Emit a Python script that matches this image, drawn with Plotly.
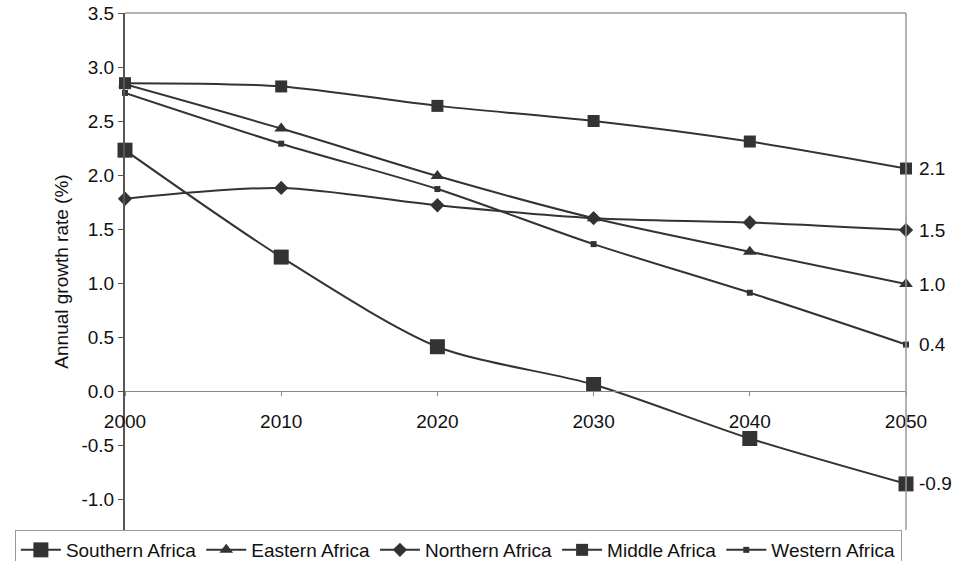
import plotly.graph_objects as go

years = [2000, 2010, 2020, 2030, 2040, 2050]

southern_africa = [2.23, 1.24, 0.41, 0.06, -0.44, -0.86]
eastern_africa = [2.84, 2.43, 1.99, 1.60, 1.29, 0.99]
northern_africa = [1.78, 1.88, 1.72, 1.60, 1.56, 1.49]
middle_africa = [2.85, 2.82, 2.64, 2.50, 2.31, 2.06]
western_africa = [2.76, 2.29, 1.87, 1.36, 0.91, 0.43]

y_ticks = [3.5, 3.0, 2.5, 2.0, 1.5, 1.0, 0.5, 0.0, -0.5, -1.0]
y_min, y_max = -1.287, 3.5

INK = "#333333"
FONT = "Liberation Sans, Arial, sans-serif"
FS = 19

series = [
    ("Southern Africa", southern_africa, dict(symbol="square", size=15)),
    ("Eastern Africa", eastern_africa, dict(symbol="triangle-up", size=12)),
    ("Northern Africa", northern_africa, dict(symbol="diamond", size=11)),
    ("Middle Africa", middle_africa, dict(symbol="square", size=12)),
    ("Western Africa", western_africa, dict(symbol="square", size=6)),
]

fig = go.Figure()
for name, vals, mk in series:
    fig.add_trace(go.Scatter(
        x=years, y=vals, name=name, mode="lines+markers", cliponaxis=False,
        line=dict(color=INK, width=2, shape="spline", smoothing=0.8),
        marker=dict(color=INK, line=dict(width=0), **mk),
    ))

# end-of-line value labels
annotations = []
for name, vals, mk in series:
    annotations.append(dict(
        x=years[-1], y=vals[-1], xref="x", yref="y",
        text=f"{vals[-1]:.1f}", showarrow=False,
        xanchor="left", yanchor="middle", xshift=11,
        font=dict(family=FONT, size=FS, color="#111111"),
    ))

dom_bottom, dom_top = 0.0, 1.0
zero_pos = dom_bottom + (0 - y_min) / (y_max - y_min) * (dom_top - dom_bottom)

fig.update_layout(
    width=956, height=561,
    margin=dict(l=125, r=50, t=13, b=31, autoexpand=False),
    paper_bgcolor="white", plot_bgcolor="white",
    font=dict(family=FONT, size=FS, color="#111111"),
    showlegend=True,
    legend=dict(
        orientation="h", x=-0.141, y=0.0, xanchor="left", yanchor="top",
        bordercolor="#999999", borderwidth=1, bgcolor="white",
        font=dict(family=FONT, size=FS, color="#111111"),
        itemwidth=40, tracegroupgap=0,
    ),
    xaxis=dict(
        range=[2000, 2050], tickvals=years, ticktext=[str(y) for y in years],
        anchor="free", position=zero_pos,
        showline=True, linecolor="#888888", linewidth=1,
        ticks="outside", ticklen=4, tickcolor="#888888",
        ticklabelstandoff=9,
        showgrid=False, zeroline=False,
        tickfont=dict(family=FONT, size=FS, color="#111111"),
    ),
    yaxis=dict(
        range=[y_min, y_max], tickvals=y_ticks,
        ticktext=[f"{v:.1f}" for v in y_ticks],
        showline=True, linecolor="#555555", linewidth=2,
        ticks="outside", ticklen=5, tickcolor="#555555",
        showgrid=False, zeroline=False,
        tickfont=dict(family=FONT, size=FS, color="#111111"),
        title=dict(text="Annual growth rate (%)", standoff=8,
                   font=dict(family=FONT, size=FS, color="#111111")),
    ),
    annotations=annotations,
    shapes=[
        dict(type="line", xref="paper", yref="paper", x0=0, x1=1, y0=1, y1=1,
             line=dict(color="#999999", width=1.5)),
        dict(type="line", xref="paper", yref="paper", x0=1, x1=1, y0=0, y1=1,
             line=dict(color="#999999", width=1.5)),
    ],
)

fig.write_html("out.html")
